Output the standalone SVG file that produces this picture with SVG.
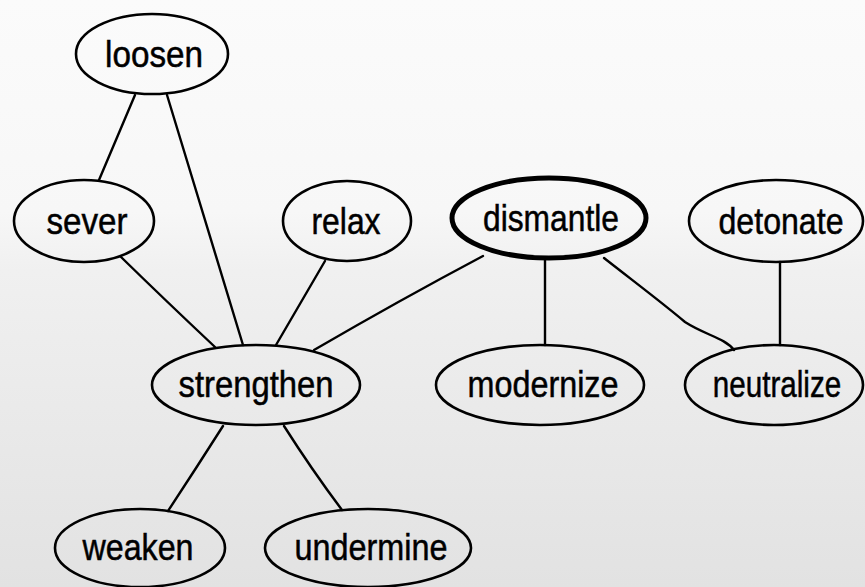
<svg xmlns="http://www.w3.org/2000/svg" width="865" height="587" viewBox="0 0 865 587">
  <defs>
    <linearGradient id="bg" x1="0" y1="0" x2="0" y2="1">
      <stop offset="0" stop-color="#fbfbfb"/>
      <stop offset="0.36" stop-color="#f7f7f7"/>
      <stop offset="0.46" stop-color="#f0f0f0"/>
      <stop offset="1" stop-color="#e2e2e2"/>
    </linearGradient>
    <style>
      .node ellipse { fill: none; stroke: #000; stroke-width: 2.6; }
      .node.focus ellipse { stroke-width: 5; }
      .node text { font-family: "Liberation Sans", Arial, sans-serif; font-size: 37px; fill: #000; stroke: #000; stroke-width: 0.5; text-anchor: middle; }
      #edges path { fill: none; stroke: #000; stroke-width: 2.4; stroke-linecap: round; }
    </style>
  </defs>
  <rect x="0" y="0" width="865" height="587" fill="url(#bg)"/>

  <!-- connectors -->
  <g id="edges">
    <path d="M135,95 L99,180"/>
    <path d="M167,95 L243,345"/>
    <path d="M121,257 Q165,300 215,347"/>
    <path d="M325,261 L276,345"/>
    <path d="M483,256 Q400,300 314,350"/>
    <path d="M545,259 L545,345"/>
    <path d="M604,258 C645,290 665,305 685,322 C705,335 725,338 734,350"/>
    <path d="M780,262 L780,345"/>
    <path d="M223,426 Q195,470 168,511"/>
    <path d="M284,426 Q312,470 342,510"/>
  </g>

  <!-- nodes -->
  <g id="loosen" class="node">
    <ellipse cx="152" cy="54" rx="76" ry="40"/>
    <text x="154" y="67" textLength="98" lengthAdjust="spacingAndGlyphs">loosen</text>
  </g>
  <g id="sever" class="node">
    <ellipse cx="84" cy="221" rx="70" ry="41"/>
    <text x="87" y="234" textLength="81" lengthAdjust="spacingAndGlyphs">sever</text>
  </g>
  <g id="relax" class="node">
    <ellipse cx="347" cy="221" rx="64" ry="40"/>
    <text x="346" y="234" textLength="69" lengthAdjust="spacingAndGlyphs">relax</text>
  </g>
  <g id="dismantle" class="node focus">
    <ellipse cx="549" cy="218" rx="97" ry="40"/>
    <text x="551" y="231" textLength="136" lengthAdjust="spacingAndGlyphs">dismantle</text>
  </g>
  <g id="detonate" class="node">
    <ellipse cx="776" cy="221" rx="87" ry="41"/>
    <text x="781" y="234" textLength="125" lengthAdjust="spacingAndGlyphs">detonate</text>
  </g>
  <g id="strengthen" class="node">
    <ellipse cx="256" cy="385" rx="104" ry="40"/>
    <text x="256" y="397" textLength="155" lengthAdjust="spacingAndGlyphs">strengthen</text>
  </g>
  <g id="modernize" class="node">
    <ellipse cx="540" cy="385" rx="104" ry="40"/>
    <text x="543" y="397" textLength="151" lengthAdjust="spacingAndGlyphs">modernize</text>
  </g>
  <g id="neutralize" class="node">
    <ellipse cx="774" cy="385" rx="89" ry="40"/>
    <text transform="translate(777,397) scale(0.8,1)">neutralize</text>
  </g>
  <g id="weaken" class="node">
    <ellipse cx="140" cy="548" rx="85" ry="39"/>
    <text x="138" y="560" textLength="111" lengthAdjust="spacingAndGlyphs">weaken</text>
  </g>
  <g id="undermine" class="node">
    <ellipse cx="368" cy="548" rx="103" ry="39"/>
    <text x="371" y="560" textLength="153" lengthAdjust="spacingAndGlyphs">undermine</text>
  </g>
</svg>
